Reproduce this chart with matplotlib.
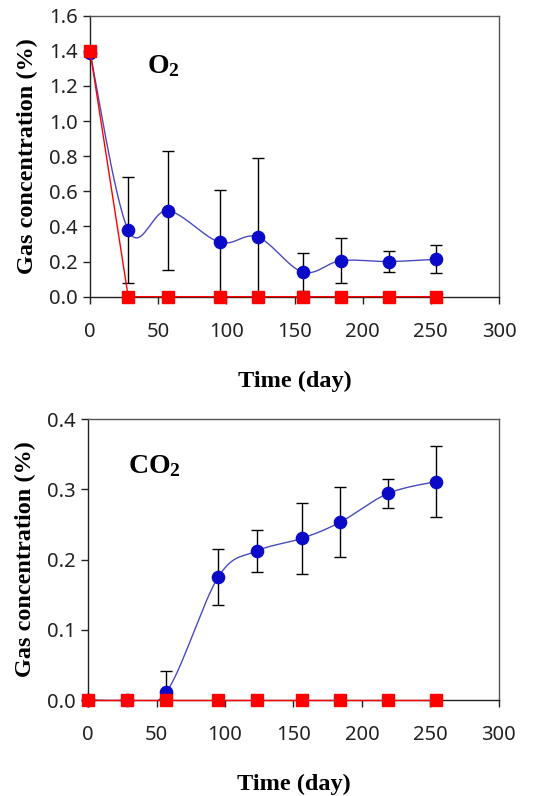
import numpy as np
import matplotlib
matplotlib.use("Agg")
import matplotlib.pyplot as plt

plt.rcParams["mathtext.fontset"] = "custom"
plt.rcParams["mathtext.rm"] = "Liberation Serif"
plt.rcParams["mathtext.bf"] = "Liberation Serif:bold"
plt.rcParams["mathtext.it"] = "Liberation Serif:italic"

# ---- data ----
days = [0, 28, 57, 95, 123, 156, 184, 219, 254]

o2_blue = [1.39, 0.38, 0.49, 0.31, 0.34, 0.14, 0.205, 0.20, 0.213]
o2_blue_err = [0.0, 0.30, 0.34, 0.30, 0.45, 0.11, 0.13, 0.06, 0.08]
o2_red = [1.40, 0.0, 0.0, 0.0, 0.0, 0.0, 0.0, 0.0, 0.0]

co2_blue = [0.0, 0.0, 0.011, 0.175, 0.212, 0.230, 0.253, 0.294, 0.311]
co2_blue_err = [0.0, 0.0, 0.03, 0.04, 0.03, 0.05, 0.05, 0.02, 0.05]
co2_red = [0.0, 0.0, 0.0, 0.0, 0.0, 0.0, 0.0, 0.0, 0.0]

o2_yticks = [0.0, 0.2, 0.4, 0.6, 0.8, 1.0, 1.2, 1.4, 1.6]
co2_yticks = [0.0, 0.1, 0.2, 0.3, 0.4]
xticks = [0, 50, 100, 150, 200, 250, 300]

BLUE_M = "#0A0AC8"
BLUE_L = "#4A4AC0"
RED = "#FF0000"
SERIF = ["Liberation Serif", "DejaVu Serif"]


def smooth(x, y, n=30):
    """Excel-like smoothed line (Catmull-Rom style Bezier) through the points."""
    x = np.asarray(x, float)
    y = np.asarray(y, float)
    px, py = [], []
    m = len(x)
    for i in range(m - 1):
        p0 = (x[max(i - 1, 0)], y[max(i - 1, 0)])
        p1 = (x[i], y[i])
        p2 = (x[i + 1], y[i + 1])
        p3 = (x[min(i + 2, m - 1)], y[min(i + 2, m - 1)])
        c1 = (p1[0] + (p2[0] - p0[0]) / 6, p1[1] + (p2[1] - p0[1]) / 6)
        c2 = (p2[0] - (p3[0] - p1[0]) / 6, p2[1] - (p3[1] - p1[1]) / 6)
        t = np.linspace(0, 1, n)
        bx = (1 - t) ** 3 * p1[0] + 3 * (1 - t) ** 2 * t * c1[0] + 3 * (1 - t) * t ** 2 * c2[0] + t ** 3 * p2[0]
        by = (1 - t) ** 3 * p1[1] + 3 * (1 - t) ** 2 * t * c1[1] + 3 * (1 - t) * t ** 2 * c2[1] + t ** 3 * p2[1]
        px.extend(bx)
        py.extend(by)
    return np.array(px), np.array(py)


fig = plt.figure(figsize=(5.41, 7.96), dpi=100)
ax1 = fig.add_axes([0.1664, 0.6273, 0.756, 0.353])
ax2 = fig.add_axes([0.163, 0.1206, 0.759, 0.353])


def style(ax, yticks, ylim, fmt):
    ax.set_xlim(0, 300)
    ax.set_ylim(*ylim)
    ax.set_xticks(xticks)
    ax.set_yticks(yticks)
    ax.set_yticklabels([fmt.format(v) for v in yticks])
    ax.tick_params(axis="both", direction="out", length=5, width=1, labelsize=14.5,
                   colors="#222222")
    ax.tick_params(axis="x", pad=13)
    ax.tick_params(axis="y", pad=4)
    for s in ["left", "bottom"]:
        ax.spines[s].set_color("#222222")
        ax.spines[s].set_linewidth(1.0)
    for s in ["top", "right"]:
        ax.spines[s].set_color("#555555")
        ax.spines[s].set_linewidth(1.0)
    ax.set_xlabel("Time (day)", fontfamily=SERIF, fontweight="bold", fontsize=17.5, labelpad=21)
    ax.set_ylabel("Gas concentration (%)", fontfamily=SERIF, fontweight="bold", fontsize=17.5,
                  labelpad=8)
    for lab in ax.get_xticklabels() + ax.get_yticklabels():
        lab.set_fontfamily(["Noto Sans", "DejaVu Sans"])


def draw(ax, blue, err, red):
    sx, sy = smooth(days, blue)
    ax.plot(sx, sy, color=BLUE_L, lw=1.0, zorder=2)
    b = np.asarray(blue)
    e = np.asarray(err)
    lower = np.minimum(e, b)
    idx = e > 0
    ax.errorbar(np.asarray(days)[idx], b[idx], yerr=[lower[idx], e[idx]], fmt="none",
                ecolor="black", elinewidth=1.0, capsize=4.5, capthick=1.0, zorder=3)
    ax.plot(days, blue, linestyle="none", marker="o", markersize=8.8, color=BLUE_M,
            zorder=4, clip_on=False)
    ax.plot(days, red, color=RED, lw=1.0, marker="s", markersize=8, markerfacecolor=RED,
            markeredgecolor=RED, zorder=5, clip_on=False)


style(ax1, o2_yticks, (0, 1.6), "{:.1f}")
draw(ax1, o2_blue, o2_blue_err, o2_red)
ax1.text(42, 1.32, r"$\mathbf{O_2}$", fontsize=20, va="center", ha="left")

style(ax2, co2_yticks, (0, 0.4), "{:.1f}")
draw(ax2, co2_blue, co2_blue_err, co2_red)
ax2.text(29, 0.334, r"$\mathbf{CO_2}$", fontsize=20, va="center", ha="left")

fig.savefig("out.png", dpi=100)
